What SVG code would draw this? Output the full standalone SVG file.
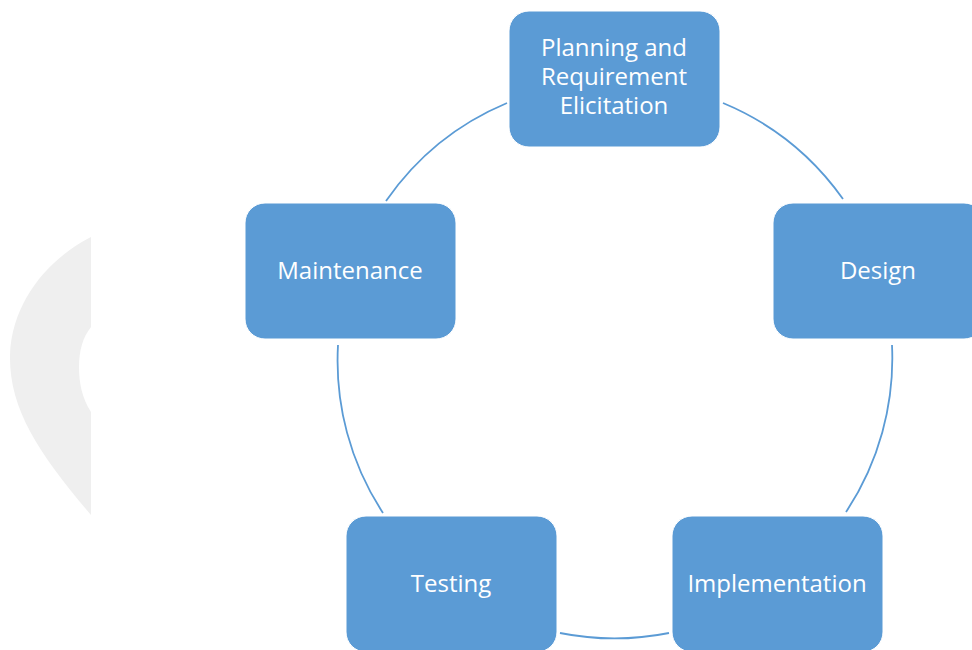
<svg xmlns="http://www.w3.org/2000/svg" width="972" height="650" viewBox="0 0 972 650">
  <style>
    .box { fill: #5B9BD5; stroke: #ffffff; stroke-width: 1; }
    .lbl { fill: #ffffff; font-family: "Open Sans", "Liberation Sans", sans-serif; font-size: 24px; text-anchor: middle; }
    .arc { fill: none; stroke: #5B9BD5; stroke-width: 1.8; }
  </style>
  <rect x="0" y="0" width="972" height="650" fill="#ffffff"/>
  <path d="M91,237 C50,258 12,300 10,355 C9,410 40,455 91,515 L91,412 C82,398 79,383 79,367 C79,350 83,337 91,327 Z" fill="#EFEFEF"/>
  <g id="connectors">
    <path class="arc" d="M386,201 A278,278 0 0 1 507,103"/>
    <path class="arc" d="M723,103 A278,278 0 0 1 843,199"/>
    <path class="arc" d="M892,345 A278,278 0 0 1 846,512"/>
    <path class="arc" d="M669,633 A278,278 0 0 1 560,633"/>
    <path class="arc" d="M383,513 A278,278 0 0 1 338,345"/>
  </g>
  <g id="planning">
    <rect class="box" x="509" y="11" width="211" height="136" rx="20"/>
    <text class="lbl" x="614" y="56">Planning and</text>
    <text class="lbl" x="614" y="85">Requirement</text>
    <text class="lbl" x="614" y="114">Elicitation</text>
  </g>
  <g id="design">
    <rect class="box" x="773" y="203" width="211" height="136" rx="20"/>
    <text class="lbl" x="878" y="279">Design</text>
  </g>
  <g id="implementation">
    <rect class="box" x="672" y="516" width="211" height="136" rx="20"/>
    <text class="lbl" x="777" y="592">Implementation</text>
  </g>
  <g id="testing">
    <rect class="box" x="346" y="516" width="211" height="136" rx="20"/>
    <text class="lbl" x="451" y="592">Testing</text>
  </g>
  <g id="maintenance">
    <rect class="box" x="245" y="203" width="211" height="136" rx="20"/>
    <text class="lbl" x="350" y="279">Maintenance</text>
  </g>
</svg>
